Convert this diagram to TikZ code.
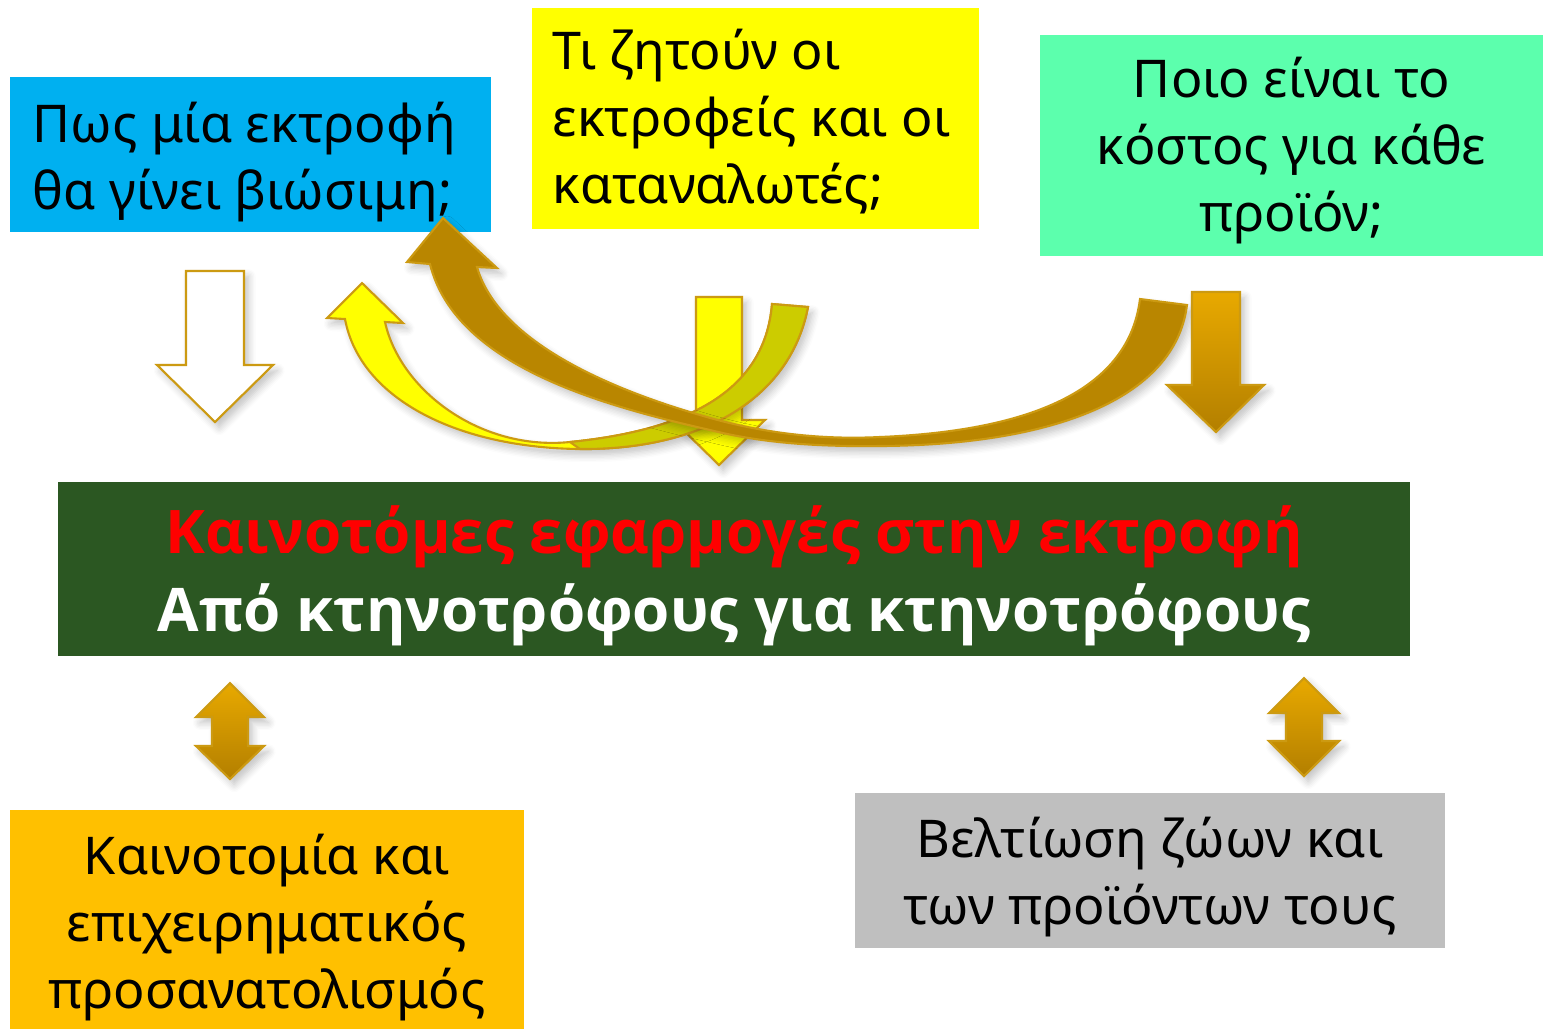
\documentclass[tikz,border=0pt]{standalone}
\usepackage{fontspec}
\setmainfont{Noto Sans}
\newfontfamily\headfont{Open Sans}
\usetikzlibrary{shadows.blur}
\definecolor{qblue}{HTML}{00B0F0}
\definecolor{qyellow}{HTML}{FFFF00}
\definecolor{qmint}{HTML}{5CFFAD}
\definecolor{qforest}{HTML}{2B5722}
\definecolor{qorange}{HTML}{FFC000}
\definecolor{qgray}{HTML}{BFBFBF}
\definecolor{qrim}{HTML}{CC9A12}
\definecolor{qbronze}{HTML}{B98600}
\definecolor{qolive}{HTML}{CCCC00}
\definecolor{qgoldtop}{HTML}{E8A900}
\definecolor{qgoldbot}{HTML}{B37F00}
\tikzset{
  qbox/.style={inner sep=0pt, outer sep=0pt},
  qtext/.style={inner sep=0pt, font=\fontsize{14.8}{19.06}\selectfont},
  rim/.style={draw=qrim, line width=0.6pt, line join=miter},
  soft/.style={blur shadow={shadow xshift=1.2pt, shadow yshift=-1.6pt,
      shadow blur steps=6, shadow opacity=25}},
  gold/.style={rim, top color=qgoldtop, bottom color=qgoldbot},
}
\begin{document}
\begin{tikzpicture}[x=0.01cm, y=-0.01cm]
\useasboundingbox (0,0) rectangle (1544,1029);

% question boxes
\node[qbox, fill=qblue, minimum width=4.81cm, minimum height=1.55cm] (viable) at (250.5,154.5) {};
\node[qtext, anchor=west, align=left] (viabletxt) at (32,162) {Πως μία εκτροφή\\θα γίνει βιώσιμη;};
\node[qbox, fill=qyellow, minimum width=4.47cm, minimum height=2.21cm] (demand) at (755.5,118.5) {};
\node[qtext, anchor=west, align=left] (demandtxt) at (552,122) {Τι ζητούν οι\\εκτροφείς και οι\\καταναλωτές;};
\node[qbox, fill=qmint, minimum width=5.03cm, minimum height=2.21cm] (cost) at (1291.5,145.5) {};
\node[qtext, align=center] (costtxt) at (1291.5,150.5) {Ποιο είναι το\\κόστος για κάθε\\προϊόν;};

% central box
\node[qbox, fill=qforest, minimum width=13.52cm, minimum height=1.74cm] (main) at (734,569) {};
\node[qtext, align=center, font=\headfont\bfseries\fontsize{17.1}{22.2}\selectfont] (maintxt) at (734,576)
  {\textcolor{red}{Καινοτόμες εφαρμογές στην εκτροφή}\\\textcolor{white}{Από κτηνοτρόφους για κτηνοτρόφους}};

% outcome boxes
\node[qbox, fill=qorange, minimum width=5.14cm, minimum height=2.19cm] (innov) at (267,919.5) {};
\node[qtext, align=center] (innovtxt) at (267,928) {Καινοτομία και\\επιχειρηματικός\\προσανατολισμός};
\node[qbox, fill=qgray, minimum width=5.9cm, minimum height=1.55cm] (improve) at (1150,870.5) {};
\node[qtext, align=center] (improvetxt) at (1150,877) {Βελτίωση ζώων και\\των προϊόντων τους};

% straight arrows
\draw[rim, fill=white, soft] (186,271) -- (244,271) -- (244,365) -- (273,365) -- (215,422)
  -- (157,365) -- (186,365) -- cycle;
\draw[rim, fill=qyellow, soft] (696,297) -- (742,297) -- (742,420) -- (765,420) -- (719,465)
  -- (673,420) -- (696,420) -- cycle;

% yellow ribbon
\draw[rim, fill=qyellow, soft] (362,283) -- (403,323) -- (385,322)
  .. controls (400,390) and (480,451) .. (570,442)
  .. controls (690,430) and (765,390) .. (772,304) -- (808,307)
  .. controls (790,400) and (700,450) .. (580,449)
  .. controls (460,448) and (360,400) .. (345,319) -- (327,318) -- cycle;
\draw[rim, fill=qolive] (772,304) .. controls (765,390) and (690,430) .. (570,442) -- (580,449)
  .. controls (700,450) and (790,400) .. (808,307) -- cycle;

% bronze ribbon
\draw[rim, fill=qbronze, soft] (443,218) -- (497,268) -- (477,267)
  .. controls (495,330) and (580,380) .. (700,415)
  .. controls (760,433) and (820,440) .. (880,437)
  .. controls (1050,430) and (1130,380) .. (1140,299) -- (1187,305)
  .. controls (1175,400) and (1050,445) .. (880,446)
  .. controls (800,447) and (750,440) .. (710,430)
  .. controls (600,405) and (455,365) .. (430,264) -- (407,262) -- cycle;

% gold arrows
\draw[gold, soft] (1192,292) -- (1240,292) -- (1240,385) -- (1264,385) -- (1216,432)
  -- (1167,385) -- (1192,385) -- cycle;
\draw[gold, soft] (230,683) -- (264,717) -- (248,717) -- (248,746) -- (264,746) -- (230,779)
  -- (196,746) -- (212,746) -- (212,717) -- (196,717) -- cycle;
\draw[gold, soft] (1304,678) -- (1339,713) -- (1322,713) -- (1322,741) -- (1339,741) -- (1304,776)
  -- (1269,741) -- (1286,741) -- (1286,713) -- (1269,713) -- cycle;
\end{tikzpicture}
\end{document}
